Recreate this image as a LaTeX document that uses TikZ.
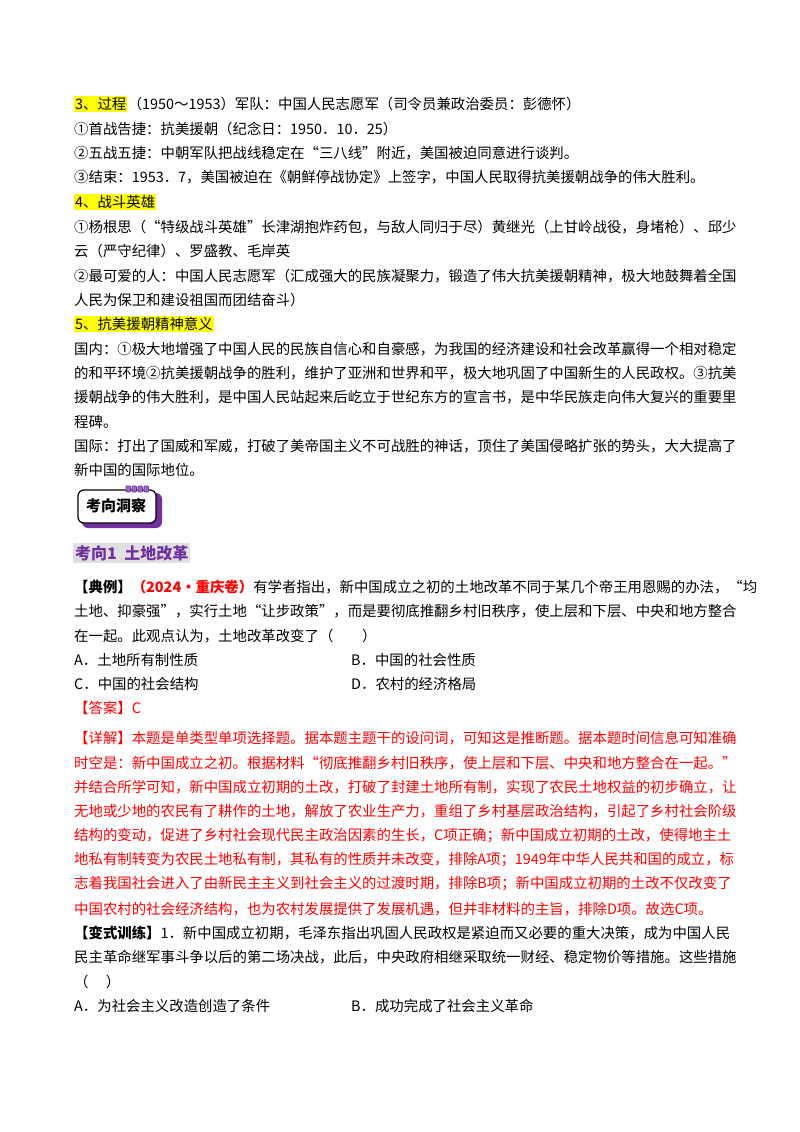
\documentclass[tikz,border=0pt]{standalone}
\usepackage{fontspec}
\setmainfont{Liberation Serif}
\newfontfamily\cjk{Noto Sans CJK SC}
\definecolor{hl}{RGB}{255,255,0}
\definecolor{pur}{RGB}{112,48,160}
\definecolor{rd}{RGB}{255,0,0}
\begin{document}
\begin{tikzpicture}[x=1pt,y=1pt,
  t/.style={anchor=west,inner sep=0pt,font=\cjk\fontsize{14.4}{16}\selectfont},
  r/.style={t,text=rd},
  hlt/.style={t,fill=hl,inner sep=1pt}]
\useasboundingbox (0,0) rectangle (800,-1132);
\fill[white] (0,0) rectangle (800,-1132);
% part 1
\node[hlt] (h3) at (74,-104) {3、过程};
\node[t,anchor=west] (l1) at (h3.east) {（1950～1953）军队：中国人民志愿军（司令员兼政治委员：彭德怀）};
\node[t] (l2) at (74,-129) {①首战告捷：抗美援朝（纪念日：1950．10．25）};
\node[t] (l3) at (74,-153) {②五战五捷：中朝军队把战线稳定在“三八线”附近，美国被迫同意进行谈判。};
\node[t] (l4) at (74,-177) {③结束：1953．7，美国被迫在《朝鲜停战协定》上签字，中国人民取得抗美援朝战争的伟大胜利。};
\node[hlt] (h4) at (74,-202) {4、战斗英雄};
\node[t] (l5) at (74,-227) {①杨根思（“特级战斗英雄”长津湖抱炸药包，与敌人同归于尽）黄继光（上甘岭战役，身堵枪）、邱少};
\node[t] (l6) at (74,-251) {云（严守纪律）、罗盛教、毛岸英};
\node[t] (l7) at (74,-276) {②最可爱的人：中国人民志愿军（汇成强大的民族凝聚力，锻造了伟大抗美援朝精神，极大地鼓舞着全国};
\node[t] (l8) at (74,-300) {人民为保卫和建设祖国而团结奋斗）};
\node[hlt] (h5) at (74,-324) {5、抗美援朝精神意义};
\node[t] (l9) at (74,-349) {国内：①极大地增强了中国人民的民族自信心和自豪感，为我国的经济建设和社会改革赢得一个相对稳定};
\node[t] (l10) at (74,-373) {的和平环境②抗美援朝战争的胜利，维护了亚洲和世界和平，极大地巩固了中国新生的人民政权。③抗美};
\node[t] (l11) at (74,-397) {援朝战争的伟大胜利，是中国人民站起来后屹立于世纪东方的宣言书，是中华民族走向伟大复兴的重要里};
\node[t] (l12) at (74,-422) {程碑。};
\node[t] (l13) at (74,-446) {国际：打出了国威和军威，打破了美帝国主义不可战胜的神话，顶住了美国侵略扩张的势头，大大提高了};
\node[t] (l14) at (74,-470) {新中国的国际地位。};
% badge
\fill[pur, rounded corners=6] (82,-493) rectangle (162,-528);
\draw[black, line width=1.2pt, fill=white, rounded corners=6] (78,-490) rectangle (156,-523);
\foreach \i in {0,1,2,3} \draw[pur, fill=pur!70, line width=0.8pt, rounded corners=1] (126+\i*6,-486) rectangle (130.5+\i*6,-492);
\node[t,anchor=center,font=\cjk\bfseries\fontsize{15}{16}\selectfont] (badge) at (116,-506) {考向洞察};
% heading
\node[t,fill=black!12,text=pur,inner sep=2pt,font=\cjk\bfseries\fontsize{16}{17}\selectfont] (k1) at (73,-553) {考向1\ \ 土地改革};
% example
\node[t] (e1) at (74,-587) {\textbf{【典例】}\textcolor{rd}{\textbf{（2024·重庆卷）}}有学者指出，新中国成立之初的土地改革不同于某几个帝王用恩赐的办法，“均};
\node[t] (e2) at (74,-611) {土地、抑豪强”，实行土地“让步政策”，而是要彻底推翻乡村旧秩序，使上层和下层、中央和地方整合};
\node[t] (e3) at (74,-636) {在一起。此观点认为，土地改革改变了（\hspace{2em}）};
\node[t] (oA) at (74,-660) {A．土地所有制性质};
\node[t] (oB) at (351,-660) {B．中国的社会性质};
\node[t] (oC) at (74,-684) {C．中国的社会结构};
\node[t] (oD) at (351,-684) {D．农村的经济格局};
\node[r] (ans) at (74,-708) {【答案】C};
\node[r] (d1) at (74,-738) {【详解】本题是单类型单项选择题。据本题主题干的设问词，可知这是推断题。据本题时间信息可知准确};
\node[r] (d2) at (74,-763) {时空是：新中国成立之初。根据材料“彻底推翻乡村旧秩序，使上层和下层、中央和地方整合在一起。”};
\node[r] (d3) at (74,-787) {并结合所学可知，新中国成立初期的土改，打破了封建土地所有制，实现了农民土地权益的初步确立，让};
\node[r] (d4) at (74,-811) {无地或少地的农民有了耕作的土地，解放了农业生产力，重组了乡村基层政治结构，引起了乡村社会阶级};
\node[r] (d5) at (74,-836) {结构的变动，促进了乡村社会现代民主政治因素的生长，C项正确；新中国成立初期的土改，使得地主土};
\node[r] (d6) at (74,-860) {地私有制转变为农民土地私有制，其私有的性质并未改变，排除A项；1949年中华人民共和国的成立，标};
\node[r] (d7) at (74,-884) {志着我国社会进入了由新民主主义到社会主义的过渡时期，排除B项；新中国成立初期的土改不仅改变了};
\node[r] (d8) at (74,-909) {中国农村的社会经济结构，也为农村发展提供了发展机遇，但并非材料的主旨，排除D项。故选C项。};
\node[t] (v1) at (74,-933) {\textbf{【变式训练】}1．新中国成立初期，毛泽东指出巩固人民政权是紧迫而又必要的重大决策，成为中国人民};
\node[t] (v2) at (74,-957) {民主革命继军事斗争以后的第二场决战，此后，中央政府相继采取统一财经、稳定物价等措施。这些措施};
\node[t] (v3) at (74,-982) {（\hspace{1.2em}）};
\node[t] (vA) at (74,-1006) {A．为社会主义改造创造了条件};
\node[t] (vB) at (351,-1006) {B．成功完成了社会主义革命};
\end{tikzpicture}
\end{document}
